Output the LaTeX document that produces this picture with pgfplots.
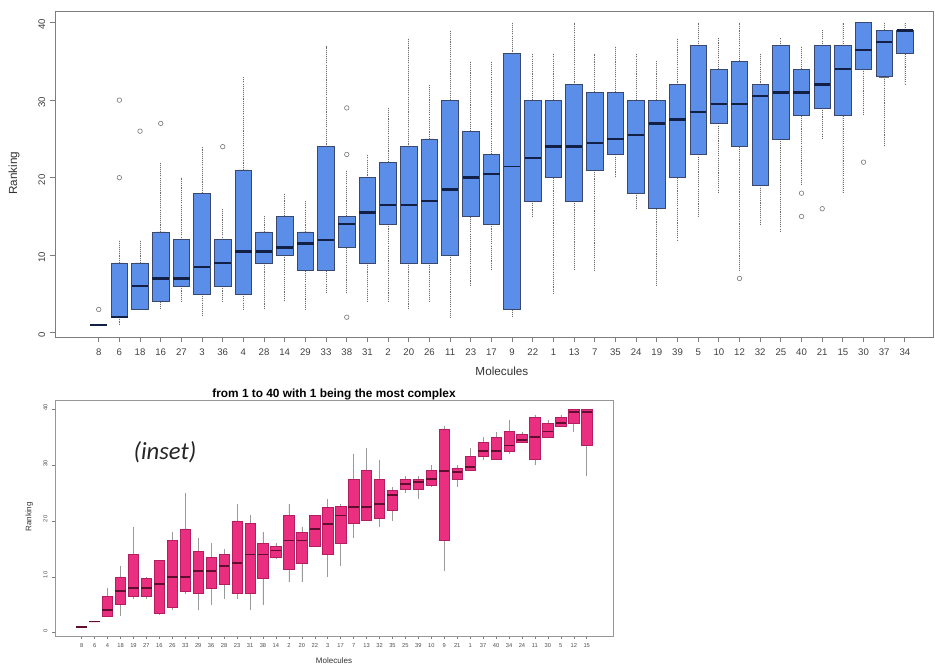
\documentclass[border=0pt]{standalone}
\usepackage{fontspec}
\setmainfont{Liberation Sans}
\newfontfamily\calibri{Carlito}
\usepackage{pgfplots}
\pgfplotsset{compat=1.18}
\usepgfplotslibrary{statistics}

\definecolor{boxblue}{RGB}{90,142,232}
\definecolor{blueedge}{RGB}{58,72,110}
\definecolor{bluemed}{RGB}{18,32,70}
\definecolor{boxpink}{RGB}{234,46,128}
\definecolor{pinkedge}{RGB}{178,30,95}
\definecolor{pinkmed}{RGB}{96,14,48}
\definecolor{framegray}{RGB}{125,125,125}
\definecolor{whiskgray}{RGB}{110,110,110}

% whiskers: stem (own style) with a solid cap
\pgfplotsset{
  boxplot/draw direction=y,
  boxplot/every whisker stem/.style={dash pattern=on 0.8pt off 0.8pt},
  boxplot/draw/whisker/.code 2 args={%
    \draw[/pgfplots/boxplot/every whisker/.try,
          /pgfplots/boxplot/every whisker stem/.try]
      (boxplot cs:#1) -- (boxplot cs:#2);
    \draw[/pgfplots/boxplot/every whisker/.try]
      (boxplot whisker cs:#1,0) -- (boxplot whisker cs:#1,1);
  },
  topbox/.style={draw=blueedge, fill=boxblue, line width=0.6pt},
  insetbox/.style={draw=pinkedge, fill=boxpink, line width=0.45pt},
}
% one box: position, lower whisker, lower quartile, median, upper quartile, upper whisker
\newcommand{\bx}[7]{%
  \addplot[#1, boxplot prepared={draw position=#2, lower whisker=#3,
    lower quartile=#4, median=#5, upper quartile=#6, upper whisker=#7}]
    coordinates {};}

\begin{document}
\begin{tikzpicture}
\path[use as bounding box] (0,0) rectangle (701.25pt,498pt);

% ---------------- main ranking chart ----------------
\begin{axis}[
  at={(41.25pt,245.25pt)}, anchor=south west,
  scale only axis, width=658.5pt, height=244.5pt,
  xmin=-1.114, xmax=41.36, ymin=-0.55, ymax=41.5,
  xtick={1,...,40},
  xticklabels={8,6,18,16,27,3,36,4,28,14,29,33,38,31,2,20,26,11,23,17,
               9,22,1,13,7,35,24,19,39,5,10,12,32,25,40,21,15,30,37,34},
  ytick={0,10,20,30,40},
  tick pos=left, tick align=outside, major tick length=3.8pt,
  axis line style={framegray, line width=0.7pt},
  tick style={framegray, line width=0.6pt},
  ticklabel style={font=\fontsize{7.2}{8}\selectfont, text=black!75},
  xticklabel style={yshift=-1.5pt},
  yticklabel style={rotate=90, anchor=south, xshift=-1.5pt},
  /pgf/number format/assume math mode=true,
  xlabel={Molecules}, ylabel={Ranking},
  label style={font=\fontsize{8.8}{10}\selectfont, text=black!80},
  xlabel style={at={(axis description cs:0.509,-0.104)}, anchor=center},
  ylabel style={at={(axis description cs:-0.0467,0.503)}, anchor=center},
  boxplot/box extend=0.8,
  boxplot/whisker extend=0.48,
  boxplot/every whisker/.style={whiskgray, line width=0.55pt},
  boxplot/every median/.style={bluemed, line width=1.8pt},
]
\bx{topbox}{1}{1}{1}{1}{1}{1}
\bx{topbox}{2}{1}{2}{2}{9}{12}
\bx{topbox}{3}{3}{3}{6}{9}{12}
\bx{topbox}{4}{3}{4}{7}{13}{22}
\bx{topbox}{5}{4}{6}{7}{12}{20}
\bx{topbox}{6}{2}{5}{8.5}{18}{24}
\bx{topbox}{7}{4}{6}{9}{12}{16}
\bx{topbox}{8}{3}{5}{10.5}{21}{33}
\bx{topbox}{9}{3}{9}{10.5}{13}{15}
\bx{topbox}{10}{4}{10}{11}{15}{18}
\bx{topbox}{11}{3}{8}{11.5}{13}{17}
\bx{topbox}{12}{5}{8}{12}{24}{37}
\bx{topbox}{13}{5}{11}{14}{15}{21}
\bx{topbox}{14}{4}{9}{15.5}{20}{23}
\bx{topbox}{15}{4}{14}{16.5}{22}{29}
\bx{topbox}{16}{3}{9}{16.5}{24}{38}
\bx{topbox}{17}{4}{9}{17}{25}{32}
\bx{topbox}{18}{2}{10}{18.5}{30}{39}
\bx{topbox}{19}{6}{15}{20}{26}{35}
\bx{topbox}{20}{8}{14}{20.5}{23}{35}
\bx{topbox, boxplot/every median/.style={bluemed, line width=0.6pt}}{21}{2}{3}{21.5}{36}{40}
\bx{topbox}{22}{15}{17}{22.5}{30}{36}
\bx{topbox}{23}{5}{20}{24}{30}{36}
\bx{topbox}{24}{8}{17}{24}{32}{40}
\bx{topbox}{25}{8}{21}{24.5}{31}{36}
\bx{topbox}{26}{20}{23}{25}{31}{37}
\bx{topbox}{27}{16}{18}{25.5}{30}{36}
\bx{topbox}{28}{6}{16}{27}{30}{35}
\bx{topbox}{29}{12}{20}{27.5}{32}{38}
\bx{topbox}{30}{15}{23}{28.5}{37}{40}
\bx{topbox}{31}{18}{27}{29.5}{34}{38}
\bx{topbox}{32}{8}{24}{29.5}{35}{40}
\bx{topbox}{33}{14}{19}{30.5}{32}{36}
\bx{topbox}{34}{13}{25}{31}{37}{38}
\bx{topbox}{35}{19}{28}{31}{34}{37}
\bx{topbox}{36}{25}{29}{32}{37}{39}
\bx{topbox}{37}{18}{28}{34}{37}{40}
\bx{topbox}{38}{28}{34}{36.5}{40}{40}
\bx{topbox}{39}{24}{33}{37.5}{39}{40}
\bx{topbox}{40}{32}{36}{39}{39}{40}
% outliers
\addplot[only marks, mark=o, mark size=1.7pt,
  mark options={draw=gray, line width=0.5pt}] coordinates {
  (1,3) (2,20) (2,30) (3,26) (4,27) (7,24) (13,29) (13,23) (13,2)
  (32,7) (35,18) (35,15) (36,16) (38,22)
};
\end{axis}

% ---------------- inset chart ----------------
\begin{axis}[
  at={(41.25pt,21pt)}, anchor=south west,
  scale only axis, width=418.5pt, height=176.5pt,
  xmin=-1.06, xmax=42.03, ymin=-0.59, ymax=41.54,
  xtick={1,...,40},
  xticklabels={8,6,4,18,19,27,16,26,33,29,36,28,23,31,38,14,2,20,22,3,
               17,7,13,32,35,25,39,10,9,21,1,37,40,34,24,11,30,5,12,15},
  ytick={0,10,20,30,40},
  tick pos=left, tick align=outside, major tick length=2.2pt,
  axis line style={framegray!80, line width=0.5pt},
  tick style={framegray, line width=0.4pt},
  ticklabel style={font=\fontsize{4.3}{5}\selectfont, text=black!70},
  yticklabel style={rotate=90, anchor=south, xshift=1.5pt},
  /pgf/number format/assume math mode=true,
  title={from 1 to 40 with 1 being the most complex},
  every axis title shift=0pt,
  title style={at={(axis description cs:0.5,1.028)}, anchor=center,
    font=\bfseries\fontsize{8.9}{10}\selectfont},
  xlabel={Molecules}, ylabel={Ranking},
  label style={font=\fontsize{6}{7}\selectfont, text=black!80},
  xlabel style={at={(axis description cs:0.5,-0.105)}, anchor=center},
  ylabel style={at={(axis description cs:-0.046,0.506)}, anchor=center},
  boxplot/box extend=0.8,
  boxplot/whisker extend=0.45,
  boxplot/every whisker/.style={whiskgray!70, line width=0.45pt},
  boxplot/every whisker stem/.style={solid},
  boxplot/every median/.style={pinkmed, line width=1.3pt},
]
\bx{insetbox}{1}{1}{1}{1}{1}{1}
\bx{insetbox}{2}{2}{2}{2}{2}{2}
\bx{insetbox}{3}{3}{3}{4}{6.5}{8}
\bx{insetbox}{4}{3}{5}{7.5}{10}{12}
\bx{insetbox}{5}{6}{6.5}{8}{14}{19}
\bx{insetbox}{6}{6}{6.5}{8}{9.7}{10}
\bx{insetbox}{7}{3.2}{3.5}{8.7}{13}{13}
\bx{insetbox}{8}{4}{4.5}{10}{16.5}{18}
\bx{insetbox}{9}{7}{7.5}{10}{18.6}{25}
\bx{insetbox}{10}{4}{7}{11}{14.5}{17}
\bx{insetbox}{11}{5}{8}{11}{13.5}{16}
\bx{insetbox}{12}{6}{8.7}{12}{14}{15}
\bx{insetbox}{13}{6}{7}{12.5}{20}{23}
\bx{insetbox}{14}{4}{7}{14}{19.5}{21}
\bx{insetbox}{15}{5}{9.7}{14}{16}{18}
\bx{insetbox}{16}{13.2}{13.5}{14.7}{15.4}{16}
\bx{insetbox}{17}{9}{11.3}{16.5}{21}{23}
\bx{insetbox}{18}{9}{12.5}{16.5}{18}{19}
\bx{insetbox}{19}{15.4}{15.4}{18.6}{21}{21}
\bx{insetbox}{20}{10}{14}{19.5}{22.4}{24}
\bx{insetbox}{21}{12}{16}{21}{22.6}{23}
\bx{insetbox}{22}{17}{19.5}{22.5}{27.5}{32}
\bx{insetbox}{23}{20.2}{20.2}{22.5}{29}{33}
\bx{insetbox}{24}{19}{20.5}{23}{27.5}{31}
\bx{insetbox}{25}{20}{22}{24.6}{25.5}{26}
\bx{insetbox}{26}{25}{25.7}{26.6}{27.5}{28}
\bx{insetbox}{27}{24}{25.7}{27}{27.5}{28}
\bx{insetbox}{28}{26}{26.4}{27.5}{29}{30}
\bx{insetbox}{29}{11}{16.5}{29}{36.5}{37}
\bx{insetbox}{30}{26}{27.5}{28.8}{29.5}{30}
\bx{insetbox}{31}{29}{29}{29.7}{31.5}{33}
\bx{insetbox}{32}{31}{31.5}{32.5}{34}{35}
\bx{insetbox}{33}{31}{31}{32.5}{35}{36}
\bx{insetbox}{34}{32}{32.5}{33.5}{36}{38}
\bx{insetbox}{35}{34}{34}{34.5}{35.6}{36}
\bx{insetbox}{36}{30}{31}{35}{38.5}{39}
\bx{insetbox}{37}{35}{35}{36}{37.5}{38}
\bx{insetbox}{38}{37}{37}{37.5}{38.5}{39}
\bx{insetbox}{39}{36}{37.5}{39.5}{40}{40}
\bx{insetbox}{40}{28}{33.6}{39.5}{40}{40}
\end{axis}

\node[font=\calibri\itshape\fontsize{18.5}{20}\selectfont, text=black!85]
  at (123.75pt,159pt) {(inset)};
\end{tikzpicture}
\end{document}
